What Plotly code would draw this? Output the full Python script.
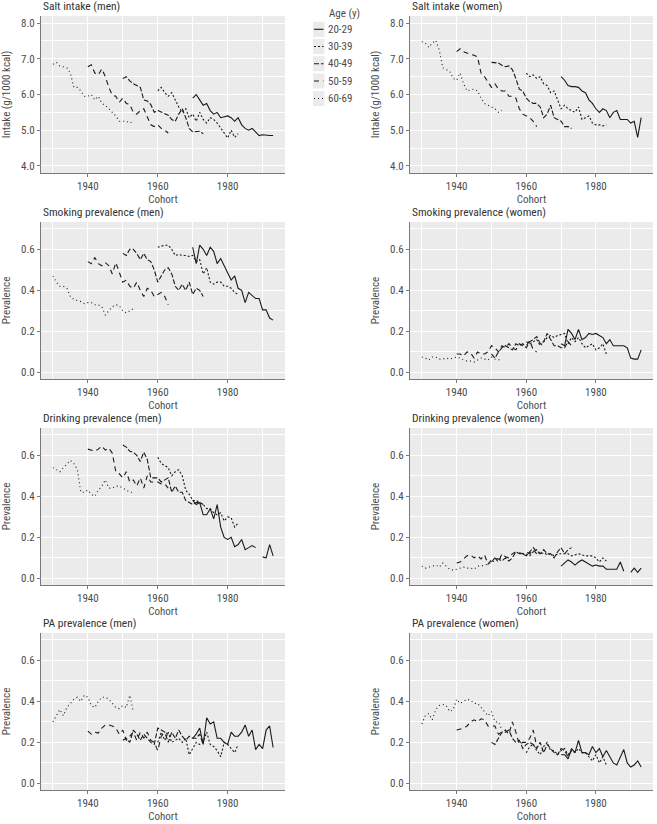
import plotly.graph_objects as go

W, H = 657, 824
FONT = "Roboto Condensed, Liberation Sans Narrow, DejaVu Sans Condensed, Arial Narrow, Roboto, sans-serif"

ages = ["20-29", "30-39", "40-49", "50-59", "60-69"]
# first birth cohort of each age group (24 consecutive cohorts each)
cohort_start = {"20-29": 1970, "30-39": 1960, "40-49": 1950, "50-59": 1940, "60-69": 1930}

salt_men = {
    "20-29": [5.9, 6.0, 5.85, 5.7, 5.75, 5.55, 5.45, 5.5, 5.35, 5.38, 5.4, 5.35, 5.25, 5.35, 5.15, 5.05,
              5.0, 5.05, 4.95, 4.85, 4.87, 4.85, 4.85, 4.85],
    "30-39": [6.1, 6.2, 6.05, 5.95, 6.05, 5.85, 5.65, 5.5, 5.6, 5.35, 5.45, 5.25, 5.5, 5.3, 5.2, 5.35,
              5.3, 5.2, 5.05, 4.9, 4.78, 5.0, 4.8, 4.9],
    "40-49": [6.45, 6.5, 6.38, 6.3, 6.25, 6.2, 5.85, 5.82, 5.72, 5.5, 5.55, 5.5, 5.45, 5.42, 5.3, 5.25,
              5.45, 5.6, 5.35, 5.05, 4.95, 4.95, 4.97, 4.9],
    "50-59": [6.78, 6.83, 6.6, 6.55, 6.72, 6.5, 6.2, 5.98, 5.95, 5.78, 5.9, 5.75, 5.72, 5.5, 5.45, 5.55,
              5.6, 5.35, 5.15, 5.1, 5.15, 5.05, 5.0, 4.92],
    "60-69": [6.85, 6.9, 6.8, 6.78, 6.75, 6.6, 6.2, 6.2, 6.1, 5.95, 5.95, 6.0, 5.85, 5.95, 5.75, 5.7,
              5.6, 5.5, 5.4, 5.25, 5.25, 5.25, 5.2, 5.25],
}
salt_women = {
    "20-29": [6.5, 6.4, 6.25, 6.22, 6.22, 6.2, 6.1, 6.05, 5.85, 5.75, 5.6, 5.5, 5.6, 5.55, 5.35, 5.5,
              5.55, 5.3, 5.3, 5.3, 5.2, 5.25, 4.8, 5.35],
    "30-39": [6.6, 6.5, 6.55, 6.45, 6.5, 6.3, 6.25, 6.05, 6.1, 5.85, 5.6, 5.7, 5.6, 5.55, 5.5, 5.65,
              5.3, 5.35, 5.4, 5.2, 5.15, 5.15, 5.12, 5.15],
    "40-49": [6.9, 6.9, 6.88, 6.82, 6.78, 6.8, 6.7, 6.45, 6.15, 6.1, 5.9, 5.8, 5.75, 5.75, 5.65, 5.35,
              5.45, 5.7, 5.35, 5.3, 5.25, 5.1, 5.1, 5.05],
    "50-59": [7.2, 7.28, 7.2, 7.15, 7.12, 7.1, 7.05, 6.6, 6.5, 6.35, 6.2, 6.3, 6.15, 6.1, 6.1, 5.95,
              5.95, 5.9, 5.6, 5.45, 5.4, 5.35, 5.25, 5.1],
    "60-69": [7.48, 7.44, 7.32, 7.44, 7.52, 7.25, 6.75, 6.7, 6.65, 6.45, 6.4, 6.6, 6.3, 6.1, 6.12, 6.15,
              6.1, 5.9, 5.75, 5.7, 5.65, 5.6, 5.5, 5.55],
}
smoking_men = {
    "20-29": [0.61, 0.53, 0.62, 0.6, 0.57, 0.61, 0.59, 0.53, 0.555, 0.52, 0.49, 0.45, 0.47, 0.41, 0.4, 0.34,
              0.39, 0.375, 0.36, 0.36, 0.305, 0.305, 0.265, 0.255],
    "30-39": [0.61, 0.615, 0.62, 0.62, 0.6, 0.57, 0.575, 0.57, 0.57, 0.565, 0.57, 0.54, 0.55, 0.48, 0.51, 0.44,
              0.43, 0.44, 0.44, 0.42, 0.42, 0.41, 0.39, 0.38],
    "40-49": [0.58, 0.57, 0.6, 0.6, 0.58, 0.55, 0.58, 0.55, 0.54, 0.5, 0.44, 0.47, 0.5, 0.51, 0.48, 0.42,
              0.4, 0.43, 0.4, 0.44, 0.38, 0.41, 0.4, 0.37],
    "50-59": [0.54, 0.53, 0.56, 0.53, 0.52, 0.535, 0.52, 0.48, 0.535, 0.49, 0.44, 0.45, 0.42, 0.41, 0.44, 0.4,
              0.37, 0.41, 0.4, 0.37, 0.38, 0.39, 0.37, 0.33],
    "60-69": [0.47, 0.44, 0.42, 0.42, 0.41, 0.37, 0.355, 0.35, 0.345, 0.335, 0.34, 0.34, 0.33, 0.33, 0.32, 0.28,
              0.3, 0.32, 0.33, 0.325, 0.3, 0.29, 0.3, 0.31],
}
smoking_women = {
    "20-29": [0.14, 0.13, 0.21, 0.19, 0.16, 0.21, 0.16, 0.17, 0.19, 0.185, 0.19, 0.18, 0.17, 0.14, 0.16, 0.13,
              0.13, 0.13, 0.13, 0.12, 0.07, 0.065, 0.065, 0.11],
    "30-39": [0.15, 0.14, 0.15, 0.16, 0.13, 0.15, 0.17, 0.18, 0.17, 0.18, 0.185, 0.19, 0.14, 0.17, 0.15, 0.17,
              0.14, 0.12, 0.13, 0.14, 0.11, 0.12, 0.14, 0.09],
    "40-49": [0.09, 0.07, 0.1, 0.12, 0.13, 0.12, 0.11, 0.14, 0.13, 0.14, 0.12, 0.15, 0.16, 0.175, 0.14, 0.15,
              0.19, 0.16, 0.13, 0.13, 0.12, 0.12, 0.15, 0.13],
    "50-59": [0.09, 0.09, 0.08, 0.1, 0.095, 0.07, 0.1, 0.09, 0.09, 0.1, 0.13, 0.12, 0.1, 0.13, 0.12, 0.14,
              0.12, 0.11, 0.14, 0.13, 0.13, 0.155, 0.11, 0.1],
    "60-69": [0.075, 0.07, 0.06, 0.075, 0.075, 0.065, 0.065, 0.07, 0.065, 0.07, 0.075, 0.07, 0.06, 0.055, 0.055,
              0.05, 0.06, 0.07, 0.065, 0.06, 0.075, 0.065, 0.06, 0.07],
}
drinking_men = {
    "20-29": [0.38, 0.36, 0.37, 0.31, 0.31, 0.34, 0.29, 0.36, 0.25, 0.2, 0.19, 0.2, 0.155, 0.165, 0.19, 0.14,
              0.15, 0.16, 0.15, None, 0.105, 0.1, 0.165, 0.11],
    "30-39": [0.59, 0.56, 0.55, 0.54, 0.5, 0.52, 0.53, 0.5, 0.43, 0.41, 0.38, 0.38, 0.37, 0.36, 0.34, 0.34,
              0.32, 0.31, 0.32, 0.28, 0.3, 0.295, 0.25, 0.27],
    "40-49": [0.65, 0.64, 0.62, 0.615, 0.6, 0.57, 0.615, 0.58, 0.49, 0.49, 0.49, 0.47, 0.48, 0.49, 0.42, 0.45,
              0.42, 0.42, 0.38, 0.37, 0.36, 0.37, 0.37, 0.36],
    "50-59": [0.63, 0.625, 0.62, 0.63, 0.645, 0.625, 0.635, 0.61, 0.52, 0.51, 0.49, 0.52, 0.47, 0.48, 0.45,
              0.49, 0.44, 0.5, 0.47, 0.47, 0.47, 0.46, 0.46, 0.44],
    "60-69": [0.54, 0.53, 0.52, 0.54, 0.56, 0.575, 0.56, 0.53, 0.42, 0.42, 0.43, 0.41, 0.4, 0.43, 0.45, 0.48,
              0.44, 0.44, 0.45, 0.45, 0.44, 0.43, 0.42, 0.42],
}
drinking_women = {
    "20-29": [0.06, 0.075, 0.09, 0.08, 0.065, 0.08, 0.09, 0.08, 0.07, 0.06, 0.065, 0.06, 0.06, 0.045, 0.045,
              0.045, 0.045, 0.08, 0.035, None, 0.03, 0.05, 0.03, 0.05],
    "30-39": [0.12, 0.11, 0.13, 0.14, 0.12, 0.125, 0.115, 0.12, 0.11, 0.12, 0.12, 0.12, 0.12, 0.11, 0.115, 0.12,
              0.115, 0.11, 0.11, 0.11, 0.1, 0.08, 0.1, 0.085],
    "40-49": [0.08, 0.1, 0.095, 0.085, 0.1, 0.085, 0.1, 0.13, 0.12, 0.12, 0.11, 0.13, 0.15, 0.13, 0.12, 0.14,
              0.12, 0.12, 0.1, 0.13, 0.15, 0.12, 0.14, 0.15],
    "50-59": [0.075, 0.08, 0.095, 0.11, 0.115, 0.1, 0.11, 0.095, 0.115, 0.07, 0.09, 0.1, 0.08, 0.12, 0.105, 0.1,
              0.12, 0.13, 0.125, 0.12, 0.13, 0.12, 0.14, 0.12],
    "60-69": [0.06, 0.05, 0.055, 0.06, 0.065, 0.055, 0.075, 0.06, 0.045, 0.04, 0.045, 0.05, 0.055, 0.05, 0.05,
              0.045, 0.06, 0.06, 0.065, 0.07, 0.08, 0.085, 0.1, 0.1],
}
pa_men = {
    "20-29": [0.22, 0.24, 0.27, 0.19, 0.32, 0.29, 0.3, 0.22, 0.22, 0.2, 0.19, 0.25, 0.23, 0.23, 0.25, 0.285,
              0.23, 0.26, 0.165, 0.19, 0.17, 0.26, 0.28, 0.175],
    "30-39": [0.2, 0.25, 0.21, 0.25, 0.2, 0.21, 0.22, 0.2, 0.22, 0.14, 0.17, 0.2, 0.19, 0.2, 0.25, 0.19,
              0.18, 0.16, 0.13, 0.2, 0.19, 0.17, 0.15, 0.19],
    "40-49": [0.21, 0.22, 0.2, 0.26, 0.24, 0.21, 0.24, 0.22, 0.2, 0.19, 0.27, 0.26, 0.25, 0.2, 0.25, 0.22,
              0.26, 0.23, 0.21, 0.23, 0.22, 0.22, 0.24, 0.19],
    "50-59": [0.255, 0.24, 0.25, 0.245, 0.27, 0.285, 0.285, 0.28, 0.27, 0.24, 0.26, 0.21, 0.23, 0.25, 0.21,
              0.25, 0.22, 0.25, 0.21, 0.2, 0.16, 0.23, 0.25, 0.24],
    "60-69": [0.3, 0.33, 0.36, 0.33, 0.37, 0.39, 0.41, 0.42, 0.4, 0.43, 0.42, 0.38, 0.37, 0.4, 0.42, 0.42,
              0.41, 0.39, 0.37, 0.365, 0.38, 0.37, 0.43, 0.35],
}
pa_women = {
    "20-29": [0.14, 0.14, 0.12, 0.17, 0.15, 0.21, 0.15, 0.15, 0.14, 0.18, 0.15, 0.17, 0.13, 0.16, 0.13, 0.1,
              0.09, 0.13, 0.165, 0.1, 0.08, 0.09, 0.11, 0.08],
    "30-39": [0.15, 0.18, 0.19, 0.16, 0.14, 0.18, 0.2, 0.16, 0.16, 0.14, 0.16, 0.17, 0.14, 0.16, 0.15, 0.17,
              0.15, 0.15, 0.13, 0.11, 0.14, 0.1, 0.13, 0.09],
    "40-49": [0.2, 0.19, 0.22, 0.25, 0.25, 0.26, 0.22, 0.2, 0.21, 0.17, 0.19, 0.2, 0.19, 0.17, 0.2, 0.15,
              0.19, 0.17, 0.15, 0.14, 0.17, 0.16, 0.13, 0.16],
    "50-59": [0.26, 0.265, 0.27, 0.28, 0.3, 0.31, 0.3, 0.315, 0.31, 0.28, 0.28, 0.28, 0.24, 0.25, 0.26, 0.24,
              0.3, 0.25, 0.19, 0.2, 0.2, 0.22, 0.26, 0.18],
    "60-69": [0.29, 0.33, 0.34, 0.31, 0.36, 0.38, 0.385, 0.38, 0.35, 0.36, 0.41, 0.39, 0.4, 0.41, 0.405, 0.39,
              0.39, 0.37, 0.35, 0.33, 0.35, 0.3, 0.3, 0.26],
}

panels = [
    ("Salt intake (men)", salt_men, "Intake (g/1000 kcal)", "salt"),
    ("Salt intake (women)", salt_women, "Intake (g/1000 kcal)", "salt"),
    ("Smoking prevalence (men)", smoking_men, "Prevalence", "prev"),
    ("Smoking prevalence (women)", smoking_women, "Prevalence", "prev"),
    ("Drinking prevalence (men)", drinking_men, "Prevalence", "prev"),
    ("Drinking prevalence (women)", drinking_women, "Prevalence", "prev"),
    ("PA prevalence (men)", pa_men, "Prevalence", "prev"),
    ("PA prevalence (women)", pa_women, "Prevalence", "prev"),
]

# line styles per age group (ggplot-like linetypes)
dashes = {"20-29": "solid", "30-39": "2px,2px", "40-49": "5px,2px", "50-59": "5px,4px", "60-69": "1px,3px"}
line_col = "#1a1a1a"

# panel pixel boxes
col_px = [(41, 285), (410, 653)]
row_px = [(16, 173), (222, 379), (428, 585), (633, 790)]

fig = go.Figure()
annotations = []
shapes = []

for i, (title, data, ytitle, kind) in enumerate(panels):
    r, c = divmod(i, 2)
    k = "" if i == 0 else str(i + 1)
    x0, x1 = col_px[c]
    y0, y1 = row_px[r]
    for age in ages:
        start = cohort_start[age]
        vals = data[age]
        xs = list(range(start, start + len(vals)))
        fig.add_trace(go.Scatter(
            x=xs, y=vals, mode="lines", xaxis="x" + k, yaxis="y" + k,
            line=dict(color=line_col, width=1.1, dash=dashes[age]),
            name=age, showlegend=False, connectgaps=False,
        ))

    common = dict(
        showline=True, linecolor="#7a7a7a", linewidth=1,
        ticks="outside", ticklen=3, tickcolor="#7a7a7a",
        gridcolor="white", gridwidth=1.1, zeroline=False,
        tickfont=dict(family=FONT, size=11, color="#4d4d4d"),
        title_font=dict(family=FONT, size=11, color="#4d4d4d"),
    )
    fig.layout["xaxis" + k] = dict(
        domain=[x0 / W, x1 / W], anchor="y" + k, range=[1926.6, 1996.4],
        tick0=1940, dtick=20,
        minor=dict(dtick=10, tick0=1930, showgrid=True, gridcolor="white", gridwidth=0.5, ticks=""),
        title=dict(text="Cohort", standoff=1), **common,
    )
    if kind == "salt":
        yax = dict(range=[3.8, 8.2], tick0=4, dtick=1, tickformat=".1f",
                   minor=dict(dtick=0.5, showgrid=True, gridcolor="white", gridwidth=0.5, ticks=""))
    else:
        yax = dict(range=[-0.032, 0.733], tick0=0, dtick=0.2, tickformat=".1f",
                   minor=dict(dtick=0.1, showgrid=True, gridcolor="white", gridwidth=0.5, ticks=""))
    fig.layout["yaxis" + k] = dict(
        domain=[1 - y1 / H, 1 - y0 / H], anchor="x" + k,
        title=dict(text=ytitle, standoff=8), **yax, **common,
    )
    annotations.append(dict(
        text=title, xref="paper", yref="paper", x=x0 / W, y=1 - (y0 - 1) / H,
        xanchor="left", yanchor="bottom", showarrow=False,
        font=dict(family=FONT, size=11.5, color="#333333"),
    ))

# legend drawn by hand (small keys like the original)
annotations.append(dict(
    text="Age (y)", xref="paper", yref="paper", x=327 / W, y=1 - 14 / H,
    xanchor="left", yanchor="middle", showarrow=False,
    font=dict(family=FONT, size=11, color="#4d4d4d"),
))
key_y = [29.3, 46.5, 63.7, 81.0, 98.5]
for age, cy in zip(ages, key_y):
    shapes.append(dict(type="rect", xref="paper", yref="paper",
                       x0=313 / W, x1=324.5 / W, y0=1 - (cy + 7.5) / H, y1=1 - (cy - 7.5) / H,
                       fillcolor="#ebebeb", line=dict(width=0), layer="below"))
    shapes.append(dict(type="line", xref="paper", yref="paper",
                       x0=314 / W, x1=323.5 / W, y0=1 - cy / H, y1=1 - cy / H,
                       line=dict(color=line_col, width=1.1, dash=dashes[age])))
    annotations.append(dict(
        text=age, xref="paper", yref="paper", x=326 / W, y=1 - cy / H,
        xanchor="left", yanchor="middle", showarrow=False,
        font=dict(family=FONT, size=11, color="#4d4d4d"),
    ))

fig.update_layout(
    width=W, height=H, margin=dict(l=0, r=0, t=0, b=0),
    paper_bgcolor="white", plot_bgcolor="#ebebeb",
    font=dict(family=FONT, color="#333333"),
    annotations=annotations, shapes=shapes, showlegend=False,
)

# the page's default body margin would push the 657x824 figure off its window
fig.write_html("out.html", config={"displayModeBar": False},
               post_script="document.body.style.margin = '0px';")
